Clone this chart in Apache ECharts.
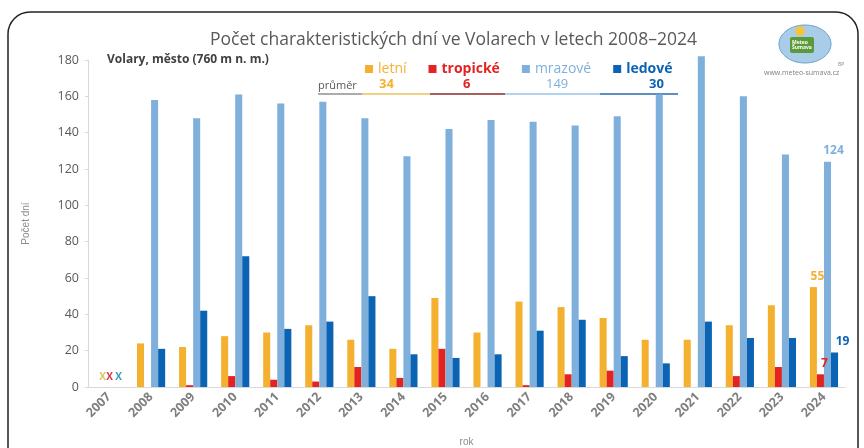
<!DOCTYPE html>
<html>
<head>
<meta charset="utf-8">
<script src="https://cdn.jsdelivr.net/npm/echarts@6/dist/echarts.min.js"></script>
<style>
html,body{margin:0;padding:0;background:#fff;}
#main{width:864px;height:448px;}
</style>
</head>
<body>
<div id="main"></div>
<script>
// roky
const years = ['2007','2008','2009','2010','2011','2012','2013','2014','2015','2016','2017','2018','2019','2020','2021','2022','2023','2024'];
// letní dny
const letni = [0,24,22,28,30,34,26,21,49,30,47,44,38,26,26,34,45,55];
// tropické dny
const tropicke = [0,0,1,6,4,3,11,5,21,0,1,7,9,0,0,6,11,7];
// mrazové dny
const mrazove = [0,158,148,161,156,157,148,127,142,147,146,144,149,161,182,160,128,124];
// ledové dny
const ledove = [null,21,42,72,32,36,50,18,16,18,31,37,17,13,36,27,27,19];
// průměr
const prumer = {letni:34, tropicke:6, mrazove:149, ledove:30};
const yTicks = {min:0, max:180, interval:20};

const colors = {letni:'#f4b130', tropicke:'#e42320', mrazove:'#7fb0dc', ledove:'#0b63b4'};
const xColors = {letni:'#d9c65a', tropicke:'#d2364a', mrazove:'#3aa0b8'};
const last = years.length - 1;

function lbl(color, xColor, offset){
    return {
        show:true,
        position:'top',
        offset: offset || [0,0],
        color: color,
        fontWeight:'bold',
        fontSize:12,
        fontFamily:'Open Sans',
        formatter: p => p.dataIndex === last ? String(p.value) : (xColor && p.dataIndex === 0 ? '{x|X}' : ''),
        rich:{x:{fontSize:10, color:xColor || color, fontWeight:'bold'}}
    };
}

const myEcharts = echarts.init(document.getElementById('main'));
const option = {
    animation:false,
    title:{
        text:'Počet charakteristických dní ve Volarech v letech 2008–2024',
        left:205, top:26,
        textStyle:{fontSize:17.5, fontWeight:'normal', color:'#595959', fontFamily:'Open Sans'}
    },
    legend:{
        left:360, top:57,
        icon:'rect', itemWidth:8, itemHeight:8, itemGap:22,
        textStyle:{fontSize:14, fontFamily:'Open Sans'},
        data:[
            {name:'letní', textStyle:{color:colors.letni}},
            {name:'tropické', textStyle:{color:colors.tropicke, fontWeight:'bold'}},
            {name:'mrazové', textStyle:{color:colors.mrazove}},
            {name:'ledové', textStyle:{color:colors.ledove, fontWeight:'bold'}}
        ]
    },
    grid:{left:88, right:19, top:60, bottom:61, outerBoundsMode:'none', containLabel:false},
    xAxis:{
        type:'category',
        data:years,
        name:'rok',
        nameLocation:'middle',
        nameGap:50,
        nameTextStyle:{color:'#8c8c8c', fontSize:10},
        axisLine:{lineStyle:{color:'#d9d9d9'}},
        axisTick:{lineStyle:{color:'#d9d9d9'}},
        axisLabel:{rotate:45, color:'#7f7f7f', fontWeight:'bold', fontSize:12.5, fontFamily:'Open Sans', margin:8}
    },
    yAxis:{
        type:'value',
        min:yTicks.min, max:yTicks.max, interval:yTicks.interval,
        name:'Počet dní',
        nameLocation:'middle',
        nameGap:57,
        nameTextStyle:{color:'#8c8c8c', fontSize:10},
        splitLine:{show:false},
        axisLine:{show:true, lineStyle:{color:'#d9d9d9'}},
        axisTick:{show:true, length:3, lineStyle:{color:'#d9d9d9'}},
        axisLabel:{color:'#595959', fontSize:12.5, fontFamily:'Open Sans', margin:9}
    },
    series:[
        {name:'letní', type:'bar', data:letni, itemStyle:{color:colors.letni}, barGap:'0%', barCategoryGap:'33%', label:lbl(colors.letni, xColors.letni, [4,0])},
        {name:'tropické', type:'bar', data:tropicke, itemStyle:{color:colors.tropicke}, label:lbl(colors.tropicke, xColors.tropicke, [4,0])},
        {name:'mrazové', type:'bar', data:mrazove, itemStyle:{color:colors.mrazove}, clip:false, label:lbl(colors.mrazove, xColors.mrazove, [6,0])},
        {name:'ledové', type:'bar', data:ledove, itemStyle:{color:colors.ledove}, label:lbl(colors.ledove, null, [8,0])}
    ],
    graphic:[
        // rámeček
        {type:'rect', shape:{x:8, y:12, width:850, height:470, r:22}, style:{fill:'none', stroke:'#222', lineWidth:1.5}, silent:true},
        {type:'text', left:107, top:54, style:{text:'Volary, město (760 m n. m.)', fill:'#404040', font:'bold 12px "Open Sans"'}},
        // průměr
        {type:'text', left:318, top:80, style:{text:'průměr', fill:'#595959', font:'11px "Open Sans"'}},
        {type:'text', left:379, top:78, style:{text:String(prumer.letni), fill:colors.letni, font:'bold 13px "Open Sans"'}},
        {type:'text', left:463, top:78, style:{text:String(prumer.tropicke), fill:colors.tropicke, font:'bold 13px "Open Sans"'}},
        {type:'text', left:546, top:78, style:{text:String(prumer.mrazove), fill:colors.mrazove, font:'13px "Open Sans"'}},
        {type:'text', left:649, top:78, style:{text:String(prumer.ledove), fill:colors.ledove, font:'bold 13px "Open Sans"'}},
        {type:'line', shape:{x1:318, y1:94, x2:362, y2:94}, style:{stroke:'#595959', lineWidth:1}},
        {type:'line', shape:{x1:362, y1:94, x2:430, y2:94}, style:{stroke:'#e8c25a', lineWidth:1.5}},
        {type:'line', shape:{x1:430, y1:94, x2:505, y2:94}, style:{stroke:'#8a2a2a', lineWidth:1.5}},
        {type:'line', shape:{x1:505, y1:94, x2:600, y2:94}, style:{stroke:'#9cc3e6', lineWidth:1.5}},
        {type:'line', shape:{x1:600, y1:94, x2:678, y2:94}, style:{stroke:'#2a6aa8', lineWidth:1.5}},
        // logo
        {type:'ellipse', shape:{cx:805, cy:44, rx:26, ry:19}, style:{fill:'#a9cce8', stroke:'#6aa0c8', lineWidth:1}},
        {type:'rect', shape:{x:790, y:37, width:24, height:16, r:2}, style:{fill:'#5a9a3a'}},
        {type:'circle', shape:{cx:800, cy:31, r:5}, style:{fill:'#f2c444'}},
        {type:'text', left:792, top:40, style:{text:'Meteo\nŠumava', fill:'#ffffff', font:'bold 5px "Open Sans"'}},
        {type:'text', left:838, top:62, style:{text:'BP', fill:'#888', font:'5px "Open Sans"'}},
        {type:'text', left:764, top:69, style:{text:'www.meteo-sumava.cz', fill:'#7f7f7f', font:'7px "Open Sans"'}}
    ]
};
myEcharts.setOption(option);
window.addEventListener('resize', () => myEcharts.resize());
</script>
</body>
</html>
